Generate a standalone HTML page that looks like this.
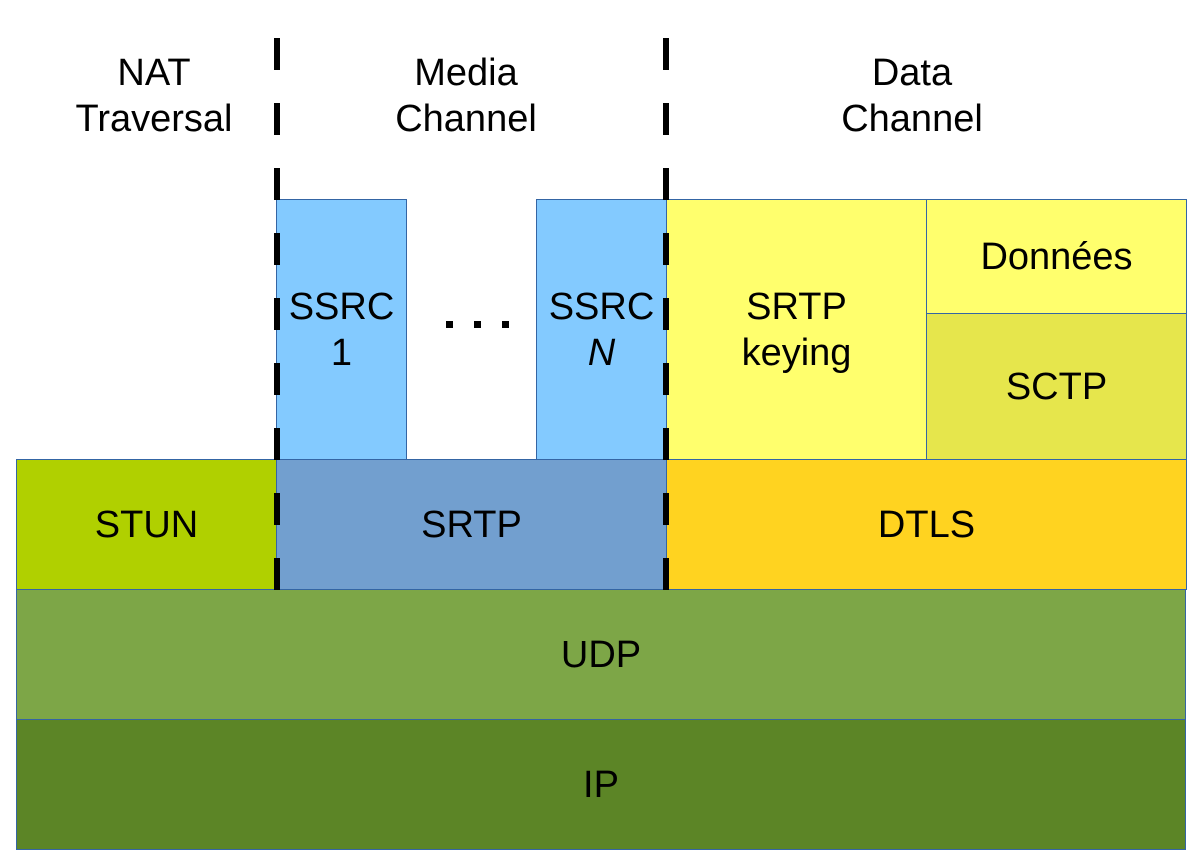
<!DOCTYPE html>
<html><head><meta charset="utf-8"><style>
body{margin:0;width:1200px;height:867px;background:#fff;overflow:hidden;font-family:"Liberation Sans",sans-serif;}
.b{position:absolute;box-sizing:border-box;border:1.5px solid #3465a4;display:flex;align-items:center;justify-content:center;text-align:center;font-size:38px;line-height:46px;color:#000;}
.t{position:absolute;text-align:center;font-size:38px;line-height:46px;width:300px;}
</style></head><body>
<div class="t" style="left:4px;top:50px">NAT<br>Traversal</div>
<div class="t" style="left:316px;top:50px">Media<br>Channel</div>
<div class="t" style="left:762px;top:50px">Data<br>Channel</div>

<div class="b" style="left:16px;top:719px;width:1170px;height:131px;background:#5c8526"><div>IP</div></div>
<div class="b" style="left:16px;top:589px;width:1170px;height:131px;background:#7da647"><div>UDP</div></div>
<div class="b" style="left:16px;top:459px;width:261px;height:131px;background:#b0d000"><div>STUN</div></div>
<div class="b" style="left:276px;top:459px;width:391px;height:131px;background:#729fcf"><div>SRTP</div></div>
<div class="b" style="left:666px;top:459px;width:521px;height:131px;background:#ffd320"><div>DTLS</div></div>
<div class="b" style="left:276px;top:199px;width:131px;height:261px;background:#83caff"><div>SSRC<br>1</div></div>
<div class="b" style="left:536px;top:199px;width:131px;height:261px;background:#83caff"><div>SSRC<br><i>N</i></div></div>
<div class="b" style="left:666px;top:199px;width:261px;height:261px;background:#ffff6d"><div>SRTP<br>keying</div></div>
<div class="b" style="left:926px;top:199px;width:261px;height:115px;background:#ffff6d"><div>Données</div></div>
<div class="b" style="left:926px;top:313px;width:261px;height:147px;background:#e6e64c"><div>SCTP</div></div>

<svg style="position:absolute;left:0;top:0" width="1200" height="867">
<rect x="446" y="321" width="7" height="7" fill="#000"/>
<rect x="474" y="321" width="7" height="7" fill="#000"/>
<rect x="502" y="321" width="7" height="7" fill="#000"/>
<line x1="277" y1="38" x2="277" y2="590" stroke="#000" stroke-width="6" stroke-dasharray="32 33"/>
<line x1="666" y1="38" x2="666" y2="590" stroke="#000" stroke-width="6" stroke-dasharray="32 33"/>
</svg>
</body></html>
